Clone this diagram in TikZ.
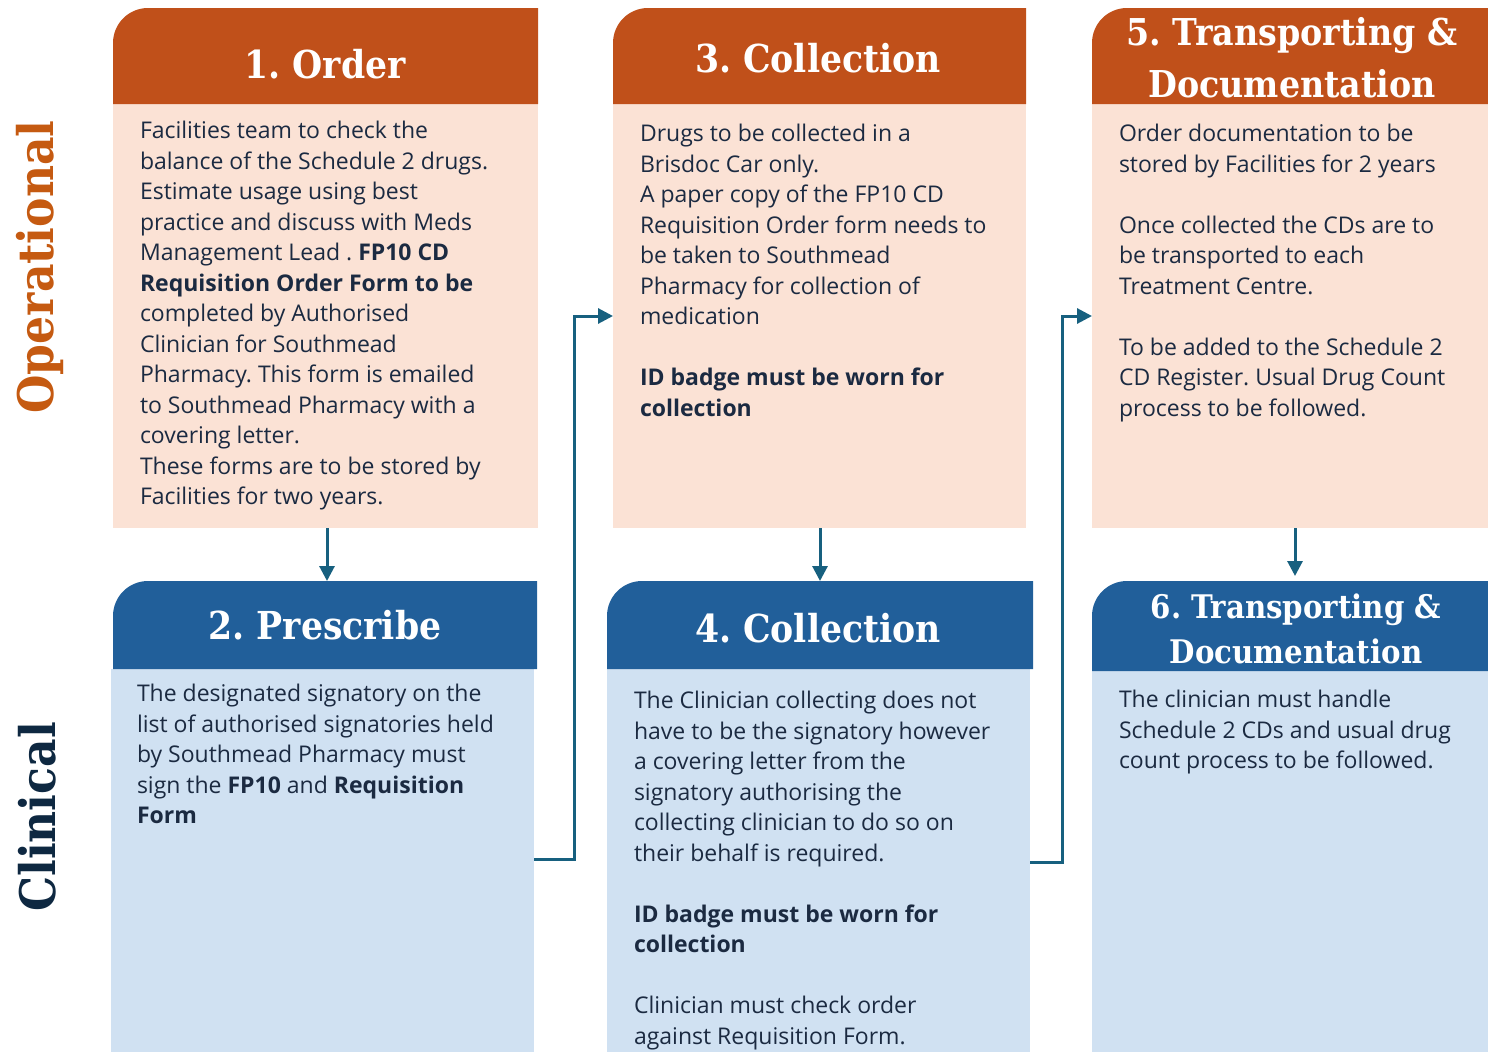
\documentclass[tikz,border=0pt]{standalone}
\usepackage{fontspec}
\setmainfont{Open Sans}
\newfontfamily\headfont{DejaVu Serif Condensed}
\usetikzlibrary{arrows.meta}
\definecolor{ordH}{HTML}{C0501A}
\definecolor{ordB}{HTML}{FBE2D5}
\definecolor{cliH}{HTML}{215F9A}
\definecolor{cliB}{HTML}{D0E1F2}
\definecolor{txt}{HTML}{1B2A41}
\definecolor{arrc}{HTML}{17607F}
\definecolor{opLab}{HTML}{C55A11}
\definecolor{clLab}{HTML}{0E2841}
\tikzset{
 boxarea/.style={draw=none, inner sep=0, outer sep=0, anchor=north west},
 bodytext/.style={anchor=north west, inner sep=0, outer sep=0, align=left, text=txt, font=\fontsize{23}{30.5}\selectfont},
 headtext/.style={anchor=base, inner sep=0, text=white, font=\headfont\bfseries\fontsize{38.5}{46}\selectfont},
 headsmall/.style={anchor=base, inner sep=0, text=white, align=center, font=\headfont\bfseries\fontsize{37}{52}\selectfont},
 headtiny/.style={anchor=base, inner sep=0, text=white, align=center, font=\headfont\bfseries\fontsize{32.5}{45}\selectfont},
 sidelabel/.style={anchor=base, inner sep=0, rotate=90, font=\headfont\bfseries\fontsize{49}{55}\selectfont},
 link/.style={draw=arrc, line width=3pt, -{Triangle[length=15pt,width=15pt]}},
}
\newcommand{\hdrfill}[2]{\fill[#2] (#1.south west) [rounded corners=35pt] -- (#1.north west) [sharp corners] -- (#1.north east) -- (#1.south east) -- cycle;}
\begin{document}
\frenchspacing
\begin{tikzpicture}[x=1pt,y=-1pt]
\useasboundingbox (0,0) rectangle (1488,1052);

% body areas
\node[boxarea, fill=ordB, minimum width=425, minimum height=424] (b1) at (113,104) {};
\node[boxarea, fill=ordB, minimum width=413, minimum height=424] (b3) at (613,104) {};
\node[boxarea, fill=ordB, minimum width=396, minimum height=424] (b5) at (1092,104) {};
\node[boxarea, fill=cliB, minimum width=423, minimum height=383] (b2) at (111,669) {};
\node[boxarea, fill=cliB, minimum width=423, minimum height=383] (b4) at (607,669) {};
\node[boxarea, fill=cliB, minimum width=396, minimum height=381] (b6) at (1092,671) {};

% header areas
\node[boxarea, minimum width=425, minimum height=96] (h1) at (113,8) {};
\node[boxarea, minimum width=413, minimum height=96] (h3) at (613,8) {};
\node[boxarea, minimum width=396, minimum height=96] (h5) at (1092,8) {};
\node[boxarea, minimum width=424, minimum height=88] (h2) at (113,581) {};
\node[boxarea, minimum width=426, minimum height=88] (h4) at (607,581) {};
\node[boxarea, minimum width=396, minimum height=90] (h6) at (1092,581) {};
\hdrfill{h1}{ordH}
\hdrfill{h3}{ordH}
\hdrfill{h5}{ordH}
\hdrfill{h2}{cliH}
\hdrfill{h4}{cliH}
\hdrfill{h6}{cliH}

% header titles
\node[headtext] (t1) at (325,78) {1. Order};
\node[headtext] (t3) at (818,72) {3. Collection};
\node[headtext] (t2) at (325,639) {2. Prescribe};
\node[headtext] (t4) at (818,642) {4. Collection};
\node[headsmall] (t5) at (1292,97) {5. Transporting \&\\Documentation};
\node[headtiny] (t6) at (1296,663) {6. Transporting \&\\Documentation};

% side labels
\node[sidelabel, text=opLab] (lop) at (53,267) {Operational};
\node[sidelabel, text=clLab] (lcl) at (55,817) {Clinical};

% body texts
\node[bodytext] (x1) at (140,117.6) {\strut Facilities team to check the\\
balance of the Schedule 2 drugs.\\
Estimate usage using best\\
practice and discuss with Meds\\
Management Lead . \textbf{FP10 CD}\\
\textbf{Requisition Order Form to be}\\
completed by Authorised\\
Clinician for Southmead\\
Pharmacy. This form is emailed\\
to Southmead Pharmacy with a\\
covering letter.\\
These forms are to be stored by\\
Facilities for two years.};

\node[bodytext] (x3) at (640,120.6) {\strut Drugs to be collected in a\\
Brisdoc Car only.\\
A paper copy of the FP10 CD\\
Requisition Order form needs to\\
be taken to Southmead\\
Pharmacy for collection of\\
medication\\[30.5pt]
\textbf{ID badge must be worn for}\\
\textbf{collection}};

\node[bodytext] (x5) at (1119,120.6) {\strut Order documentation to be\\
stored by Facilities for 2 years\\[30.5pt]
Once collected the CDs are to\\
be transported to each\\
Treatment Centre.\\[30.5pt]
To be added to the Schedule 2\\
CD Register. Usual Drug Count\\
process to be followed.};

\node[bodytext] (x2) at (137,680.6) {\strut The designated signatory on the\\
list of authorised signatories held\\
by Southmead Pharmacy must\\
sign the \textbf{FP10} and \textbf{Requisition}\\
\textbf{Form}};

\node[bodytext] (x4) at (634,687.6) {\strut The Clinician collecting does not\\
have to be the signatory however\\
a covering letter from the\\
signatory authorising the\\
collecting clinician to do so on\\
their behalf is required.\\[30.5pt]
\textbf{ID badge must be worn for}\\
\textbf{collection}\\[30.5pt]
Clinician must check order\\
against Requisition Form.};

\node[bodytext] (x6) at (1119,686.6) {\strut The clinician must handle\\
Schedule 2 CDs and usual drug\\
count process to be followed.};

% connectors
\draw[link] ([xshift=1.5pt]b1.south) -- ([xshift=1.5pt]b1.south |- h2.north);
\draw[link] ([xshift=0.5pt]b3.south) -- ([xshift=0.5pt]b3.south |- h4.north);
\draw[link] ([xshift=5pt]b5.south) -- ([xshift=5pt,yshift=5pt]b5.south |- h6.north);
\draw[link] ([yshift=1.5pt]b2.east) -- ++(40,0) |- (b3.west);
\draw[link] ([yshift=-1.5pt]b4.east) -- ++(32,0) |- (b5.west);
\end{tikzpicture}
\end{document}
